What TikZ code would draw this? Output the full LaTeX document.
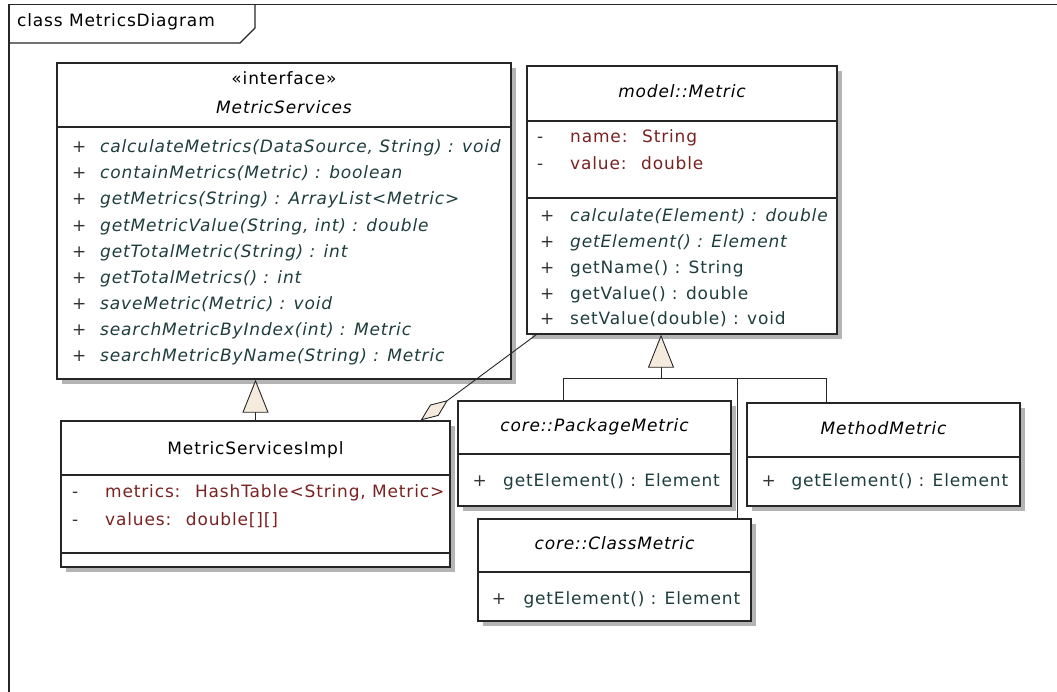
\documentclass[tikz,border=0pt]{standalone}
\usepackage{fontspec}
\setmainfont[LetterSpace=5]{DejaVu Sans}
\usepackage{xcolor}
\usepackage{tikz}
\usetikzlibrary{positioning}
\usetikzlibrary{shadows}
\usetikzlibrary{arrows.meta}

\definecolor{attrred}{HTML}{7A2222}
\definecolor{opgreen}{HTML}{1F3D3D}
\definecolor{tipfill}{HTML}{F4EBDD}
\definecolor{shadowgray}{HTML}{B4B4B4}

\begin{document}
\begin{tikzpicture}
 [x=1pt, y=-1pt,
  font=\fontsize{17}{20}\selectfont,
  umlclass/.style={rectangle, draw=black!85, line width=1.3pt, fill=white, inner sep=0pt,
                   drop shadow={shadow xshift=5pt, shadow yshift=-5pt, fill=shadowgray, opacity=1}},
  compsep/.style={draw=black!85, line width=1.3pt},
  clsname/.style={anchor=mid, inner sep=1pt},
  member/.style={anchor=mid west, inner sep=0pt},
  attr/.style={member, text=attrred},
  oper/.style={member, text=opgreen},
  vis/.style={member, text=black!80},
  link/.style={draw=black!85, line width=0.9pt},
  realize/.style={link, {Triangle[length=33pt, width=26pt, fill=tipfill]}-},
  aggr/.style={link, {Diamond[length=34pt, width=14pt, fill=tipfill]}-}]
 \useasboundingbox (0,0) rectangle (1057,692);

 % frame
 \draw[link, line width=1.2pt] (9,692) -- (9,4.5) -- (1057,4.5);
 \draw[link, line width=1.2pt] (9,43) -- (240,43) -- (255,28) -- (255,4.5);
 \node[member] (frametitle) at (17,24) {class MetricsDiagram};

 % MetricServices
 \node[umlclass, minimum width=454pt, minimum height=316pt] (svc) at (284,221) {};
 \node[clsname] (svcstereo) at (svc.north |- 0,82) {«interface»};
 \node[clsname] (svcname) at (svc.north |- 0,111) {\itshape MetricServices};
 \draw[compsep] (svc.west |- 0,127) -- (svc.east |- 0,127);
 \foreach \op [count=\i, evaluate=\i as \y using 150+26.1*(\i-1)] in
   {{calculateMetrics(DataSource, String) : void},
    {containMetrics(Metric) : boolean},
    {getMetrics(String) : ArrayList<Metric>},
    {getMetricValue(String, int) : double},
    {getTotalMetric(String) : int},
    {getTotalMetrics() : int},
    {saveMetric(Metric) : void},
    {searchMetricByIndex(int) : Metric},
    {searchMetricByName(String) : Metric}}
 {
   \node[vis] (svcvis\i) at (72,\y) {+};
   \node[oper] (svcop\i) at (100,\y) {\itshape\op};
 }

 % model::Metric
 \node[umlclass, minimum width=310pt, minimum height=268pt] (metric) at (682,200) {};
 \node[clsname] (metricname) at (metric.north |- 0,95) {\itshape model::Metric};
 \draw[compsep] (metric.west |- 0,121) -- (metric.east |- 0,121);
 \draw[compsep] (metric.west |- 0,198) -- (metric.east |- 0,198);
 \node[vis] (metricvis1) at (537,140) {-};
 \node[attr] (metricattr1) at (570,140) {name:~ String};
 \node[vis] (metricvis2) at (537,167) {-};
 \node[attr] (metricattr2) at (570,167) {value:~ double};
 \foreach \op [count=\i, evaluate=\i as \y using 219+25.8*(\i-1)] in
   {{\itshape calculate(Element) : double},
    {\itshape getElement() : Element},
    {getName() : String},
    {getValue() : double},
    {setValue(double) : void}}
 {
   \node[vis] (metricplus\i) at (540,\y) {+};
   \node[oper] (metricop\i) at (570,\y) {\op};
 }

 % MetricServicesImpl
 \node[umlclass, minimum width=389pt, minimum height=146pt] (impl) at (255.5,494) {};
 \node[clsname] (implname) at (impl.north |- 0,452) {MetricServicesImpl};
 \draw[compsep] (impl.west |- 0,475) -- (impl.east |- 0,475);
 \draw[compsep] (impl.west |- 0,553) -- (impl.east |- 0,553);
 \node[vis] (implvis1) at (72,495) {-};
 \node[attr] (implattr1) at (105,495) {metrics:~ HashTable<String, Metric>};
 \node[vis] (implvis2) at (72,523) {-};
 \node[attr] (implattr2) at (105,523) {values:~ double[][]};

 % subclasses
 \node[umlclass, minimum width=273pt, minimum height=105pt] (pkg) at (594.5,453.5) {};
 \node[clsname] (pkgname) at (pkg.north |- 0,429) {\itshape core::PackageMetric};
 \draw[compsep] (pkg.west |- 0,454) -- (pkg.east |- 0,454);
 \node[vis] (pkgvis) at (472.5,484) {+};
 \node[oper] (pkgop) at (503,484) {getElement() : Element};

 \node[umlclass, minimum width=273pt, minimum height=103pt] (meth) at (883.5,454.5) {};
 \node[clsname] (methname) at (meth.north |- 0,432) {\itshape MethodMetric};
 \draw[compsep] (meth.west |- 0,457) -- (meth.east |- 0,457);
 \node[vis] (methvis) at (761.5,484) {+};
 \node[oper] (methop) at (791.3,484) {getElement() : Element};

 \node[umlclass, minimum width=273pt, minimum height=102pt] (cls) at (614.5,570) {};
 \node[clsname] (clsname) at (cls.north |- 0,547) {\itshape core::ClassMetric};
 \draw[compsep] (cls.west |- 0,572) -- (cls.east |- 0,572);
 \node[vis] (clsvis) at (491.7,602) {+};
 \node[oper] (clsop) at (523.3,602) {getElement() : Element};

 % connectors
 \coordinate (genjoin) at (661,378);
 \draw[realize] (metric.south -| genjoin) -- (genjoin);
 \draw[link] (genjoin) -| ([xshift=-31.5pt]pkg.north);
 \draw[link] (genjoin) -| ([xshift=-57.5pt]meth.north);
 \draw[link] (genjoin) -| ([xshift=122.5pt]cls.north);
 \draw[realize] (impl.north |- svc.south) -- (impl.north);
 \draw[aggr] ([xshift=-30pt]impl.north east) -- ([xshift=10pt]metric.south west);
\end{tikzpicture}
\end{document}
